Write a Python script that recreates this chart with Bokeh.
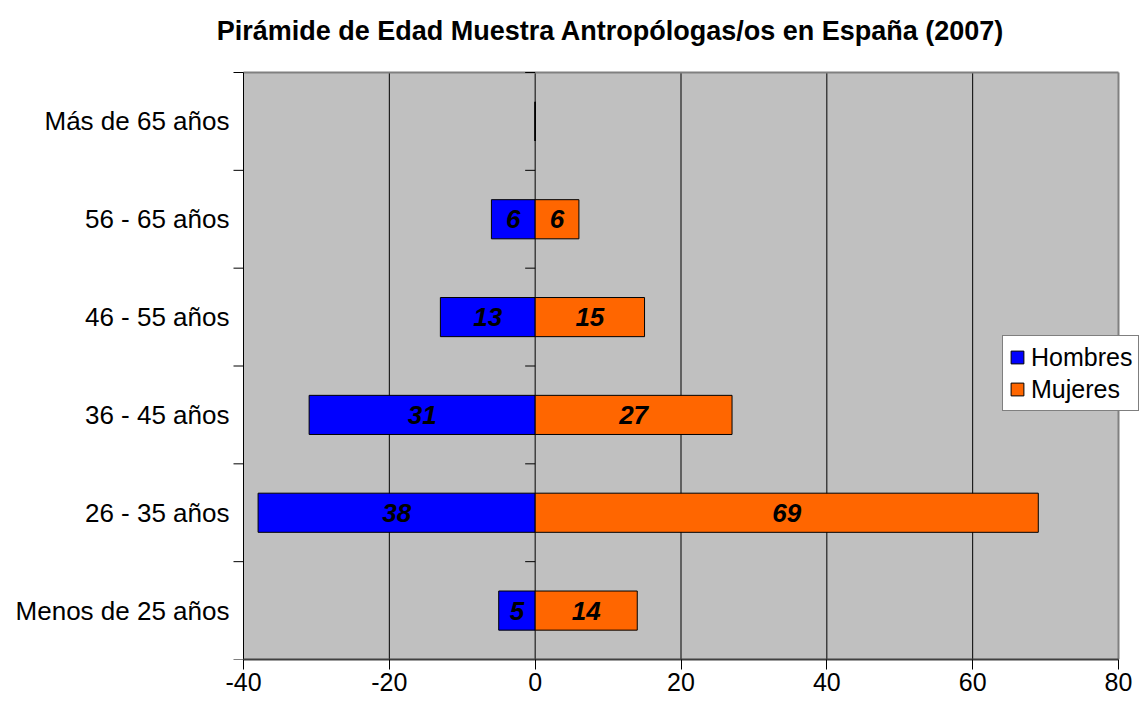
from bokeh.plotting import figure
from bokeh.models import FixedTicker, Legend, LegendItem, ColumnDataSource, Range1d
from bokeh.core.properties import value
from bokeh.embed import file_html
from bokeh.resources import INLINE

categories = ["Menos de 25 años", "26 - 35 años", "36 - 45 años",
              "46 - 55 años", "56 - 65 años", "Más de 65 años"]
hombres = [5, 38, 31, 13, 6, 0]
mujeres = [14, 69, 27, 15, 6, 0]
x_ticks = [-40, -20, 0, 20, 40, 60, 80]
title_text = "Pirámide de Edad Muestra Antropólogas/os en España (2007)"

FONT = "Liberation Sans"
n = len(categories)
ypos = [i + 0.5 for i in range(n)]

# layout (pixels)
W, H = 1146, 702
AREA_L, AREA_R, AREA_T, AREA_B = 243, 1118, 72, 659
xmin, xmax = x_ticks[0], x_ticks[-1]
px_per_x = (AREA_R - AREA_L) / (xmax - xmin)
px_per_y = (AREA_B - AREA_T) / n
x_start = xmin - AREA_L / px_per_x
x_end = xmax + (W - AREA_R) / px_per_x
y_end = n + AREA_T / px_per_y

def x_at(px):
    return xmin + (px - AREA_L) / px_per_x

p = figure(width=W, height=H, output_backend="svg", toolbar_location=None,
           x_range=Range1d(x_start, x_end), y_range=Range1d(0, y_end),
           min_border_left=0, min_border_right=0, min_border_top=0,
           min_border_bottom=H - AREA_B)
p.background_fill_color = "white"
p.border_fill_color = "white"
p.outline_line_color = None
p.xgrid.visible = False
p.ygrid.visible = False
p.yaxis.visible = False

# plot area background
p.quad(left=[xmin], right=[xmax], bottom=[0], top=[n],
       fill_color="#C0C0C0", line_color=None)

# vertical grid lines
gx = x_ticks[1:-1]
p.segment(x0=gx, y0=[0] * len(gx), x1=gx, y1=[n] * len(gx),
          line_color="black", line_width=1)
# plot-area border (top, right)
p.segment(x0=[xmin, xmax], y0=[n, 0], x1=[xmax, xmax], y1=[n, n],
          line_color="#808080", line_width=2)

# category axis (left edge) and its boundary ticks; same ticks on the zero line
bounds = list(range(n + 1))
tick_len = 10 / px_per_x
p.segment(x0=[xmin], y0=[0], x1=[xmin], y1=[n], line_color="black", line_width=1)
p.segment(x0=[xmin - tick_len] * len(bounds), y0=bounds,
          x1=[xmin] * len(bounds), y1=bounds, line_color="black", line_width=1)
p.segment(x0=[-tick_len] * len(bounds), y0=bounds, x1=[0] * len(bounds), y1=bounds,
          line_color="black", line_width=1)
p.text(x=[x_at(229)] * n, y=ypos, text=categories, text_font=value(FONT),
       text_font_size="26px", text_align="right", text_baseline="middle",
       text_color="black")

# x axis
p.xaxis.bounds = (xmin, xmax)
p.xaxis.ticker = FixedTicker(ticks=x_ticks)
p.xaxis.major_label_overrides = {t: str(t) for t in x_ticks}
p.xaxis.major_tick_out = 10
p.xaxis.major_tick_in = 0
p.xaxis.minor_tick_out = 0
p.xaxis.major_tick_line_color = "black"
p.xaxis.axis_line_color = "#404040"
p.xaxis.axis_line_width = 2
p.xaxis.major_label_text_font = FONT
p.xaxis.major_label_text_font_size = "25px"
p.xaxis.major_label_text_color = "black"
p.xaxis.major_label_standoff = 3

src = ColumnDataSource(dict(y=ypos, hl=[-v for v in hombres], hr=[0] * n,
                            ml=[0] * n, mr=mujeres))
rh = p.hbar(y="y", left="hl", right="hr", height=0.4, source=src,
            fill_color="#0000FF", line_color="black", line_width=1)
rm = p.hbar(y="y", left="ml", right="mr", height=0.4, source=src,
            fill_color="#FF6600", line_color="black", line_width=1)

# value labels
lx, ly, lt = [], [], []
for y, h, m in zip(ypos, hombres, mujeres):
    if h > 0:
        lx.append(-h / 2); ly.append(y); lt.append(str(h))
    if m > 0:
        lx.append(m / 2); ly.append(y); lt.append(str(m))
p.text(x=lx, y=ly, text=lt, text_font=value(FONT), text_font_size="26px",
       text_font_style="bold italic", text_align="center",
       text_baseline="middle", text_color="black")

# title
title_y = n + (AREA_T - 30) / px_per_y
p.text(x=[x_at(610)], y=[title_y], text=[title_text], text_font=value(FONT),
       text_font_size="27px", text_font_style="bold", text_align="center",
       text_baseline="middle", text_color="black")

legend = Legend(items=[LegendItem(label="Hombres", renderers=[rh]),
                       LegendItem(label="Mujeres", renderers=[rm])],
                location=(1002, AREA_B - 411))
legend.label_text_font = FONT
legend.label_text_font_size = "25px"
legend.label_text_color = "black"
legend.glyph_width = 16
legend.glyph_height = 16
legend.label_height = 30
legend.label_standoff = 6
legend.spacing = 2
legend.padding = 6
legend.margin = 0
legend.border_line_color = "black"
legend.border_line_width = 1
legend.background_fill_color = "white"
legend.background_fill_alpha = 1
p.add_layout(legend, "center")

open("out.html", "w").write(file_html(p, INLINE))
